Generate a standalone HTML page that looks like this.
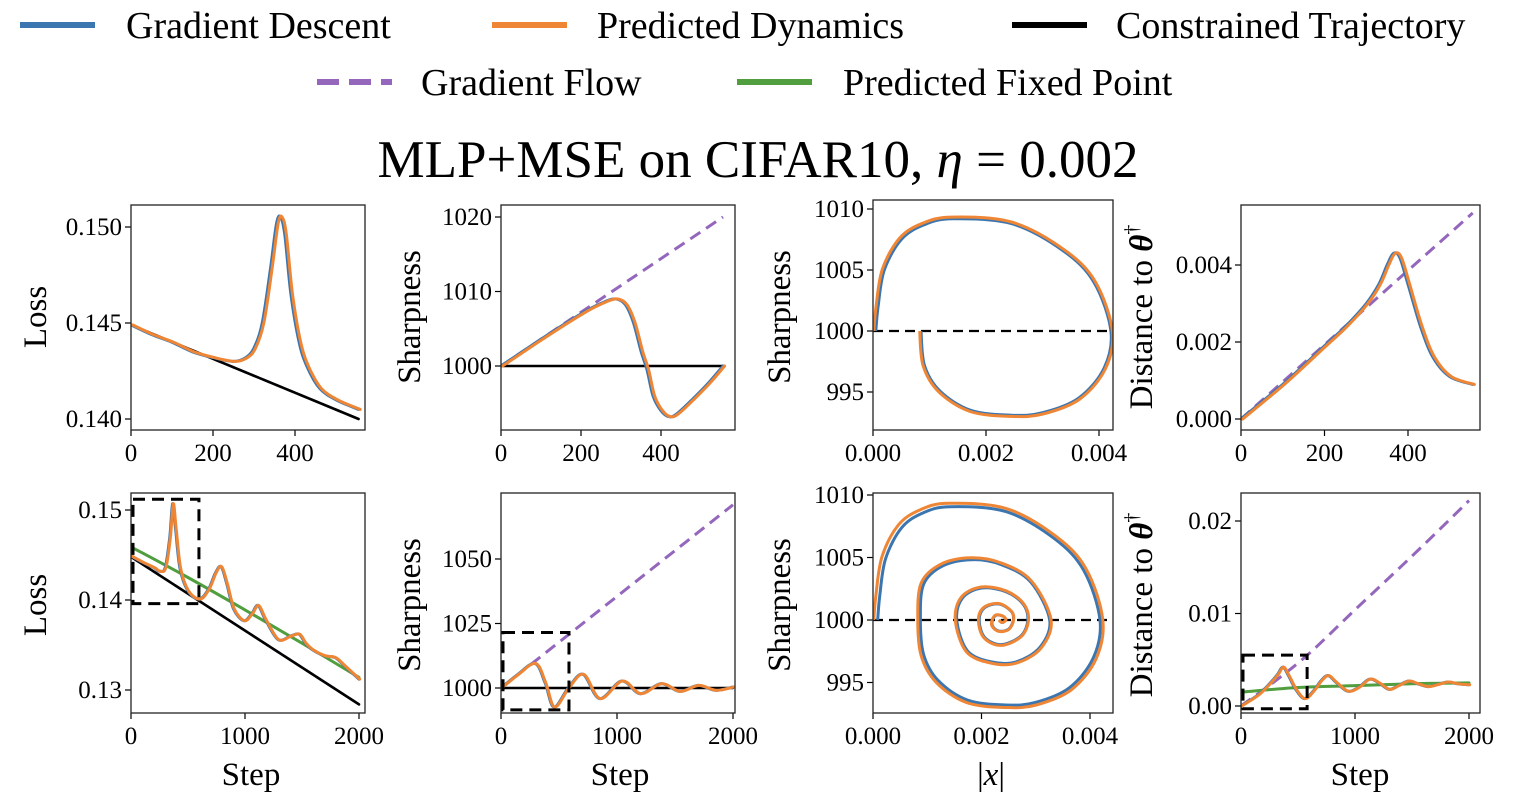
<!DOCTYPE html>
<html><head><meta charset="utf-8">
<style>
html,body{margin:0;padding:0;background:#fff;}
svg{display:block;font-family:"Liberation Serif","DejaVu Serif",serif;}
</style></head>
<body>
<svg id="fig" width="1528" height="812" viewBox="0 0 1528 812" xmlns="http://www.w3.org/2000/svg">
  <g font-size="38">
    <g>
      <line x1="20" y1="25" x2="95" y2="25" stroke="#3b76b0" stroke-width="6"/>
      <text x="126" y="38">Gradient Descent</text>
    </g>
    <g>
      <line x1="492" y1="25" x2="567" y2="25" stroke="#ef8636" stroke-width="6"/>
      <text x="597" y="38">Predicted Dynamics</text>
    </g>
    <g>
      <line x1="1012" y1="25" x2="1087" y2="25" stroke="#000" stroke-width="6"/>
      <text x="1116" y="38">Constrained Trajectory</text>
    </g>
    <g>
      <line x1="317" y1="82" x2="392" y2="82" stroke="#9467bd" stroke-width="6" stroke-dasharray="22,10"/>
      <text x="421" y="95">Gradient Flow</text>
    </g>
    <g>
      <line x1="737" y1="82" x2="812" y2="82" stroke="#519e3e" stroke-width="6"/>
      <text x="843" y="95">Predicted Fixed Point</text>
    </g>
  </g>
  <text x="758" y="177" font-size="53" text-anchor="middle">MLP+MSE on CIFAR10, <tspan font-style="italic">η</tspan> = 0.002</text>
  <g id="plots"></g>
</svg>
<script>
// ---------- DATA ----------
const r1LossSteps = [0,50,100,150,200,250,280,300,320,340,355,365,375,390,410,430,460,500,555];
const r1LossGD = [0.1449,0.1444,0.1440,0.1435,0.1432,0.1430,0.1432,0.1437,0.1450,0.1478,0.1502,0.1505,0.1496,0.1465,0.1440,0.1427,0.1416,0.1410,0.1405];
const r1LossConSteps = [0,555];
const r1LossCon = [0.1449,0.1400];

const r1SharpSteps = [0,100,200,250,285,310,330,350,365,380,400,420,440,480,520,555];
const r1SharpGD = [1000,1003.6,1007,1008.4,1009,1008.3,1006,1002,999.5,996,994,993.2,993.6,995.6,997.8,1000];
const r1FlowSteps = [0,555];
const r1SharpFlow = [1000,1020];
const r1SharpCon = [1000,1000];

const r1DistSteps = [0,100,200,250,300,330,350,365,380,400,430,460,500,555];
const r1DistGD = [0,0.0009,0.0019,0.0024,0.0030,0.0035,0.0040,0.0043,0.0042,0.0035,0.0024,0.0016,0.0011,0.0009];
const r1DistFlow = [0,0.00535];

const spiralX = [0.00005,0.00009,0.0002,0.0005,0.0009,0.00141,0.00245,0.00336,0.00391,0.00421,0.00409,0.00364,0.0030,0.00245,0.00173,0.00118,0.00091,0.00085,
 0.00091,0.00127,0.00182,0.00236,0.00291,0.00327,0.00309,0.00264,0.00218,0.00173,0.00153,
 0.00164,0.0020,0.00245,0.00277,0.00286,0.00273,0.00236,0.00205,0.00195,
 0.00205,0.00232,0.00255,0.00259,0.0025,0.00232,0.0022,0.0022,0.00227,0.0024,0.00245,0.00238,0.00232];
const spiralS = [1000,1002,1005,1007.5,1008.7,1009.2,1008.8,1006.6,1004.0,1000,996.96,994.5,993.3,993.1,993.5,995.1,997.2,1000,
 1002.9,1004.4,1004.9,1004.5,1003.1,1000,997.8,996.6,996.6,997.5,1000,
 1001.8,1002.6,1002.3,1001.3,1000,998.7,998.0,998.6,1000,
 1001.0,1001.3,1000.7,1000,999.25,999.1,999.5,1000,1000.4,1000.3,1000,999.8,1000];
const firstLoopCount = 18;

const r2LossSteps = [0,100,200,250,300,340,365,390,430,500,600,680,740,790,840,900,990,1060,1114,1180,1290,1400,1474,1530,1600,1700,1790,1880,2000];
const r2LossGD = [0.1449,0.1442,0.1436,0.1432,0.1436,0.1470,0.1507,0.1480,0.1435,0.1410,0.1401,0.1412,0.1430,0.1437,0.1418,0.1390,0.1377,0.1385,0.1394,0.1378,0.1356,0.1360,0.1362,0.1352,0.1344,0.1338,0.1336,0.1326,0.1312];
const r2FixSteps = [0,500,1000,1500,2000];
const r2LossFix = [0.1459,0.1425,0.1389,0.1352,0.1314];
const r2ConSteps = [0,2000];
const r2LossCon = [0.1448,0.1284];

const r2SharpSteps = [0,138,293,380,457,580,707,850,1040,1200,1380,1540,1700,1850,2000];
const r2SharpGD = [1000,1005,1009.5,1002,992.6,1000,1005.3,995.9,1002.7,997.8,1001.7,998.7,1001,999.1,1000.4];
const r2SharpFlow = [1000,1071];
const r2SharpCon = [1000,1000];

const r2DistSteps = [0,150,250,320,368,420,480,557,640,700,762,830,934,1030,1126,1210,1298,1380,1469,1550,1640,1720,1812,1900,2000];
const r2DistGD = [0,0.0012,0.0024,0.0034,0.0042,0.0032,0.0018,0.0008,0.0017,0.0027,0.0033,0.0026,0.0016,0.0020,0.0029,0.0025,0.0018,0.0022,0.0027,0.0024,0.0021,0.0023,0.0026,0.0024,0.0023];
const r2FlowSteps = [0,300,600,1000,1500,2000];
const r2DistFlow = [0,0.0027,0.0057,0.0104,0.0162,0.0222];
const r2DistFix = [0.0015,0.0020,0.0022,0.0024,0.0025];

const xt1 = [0,200,400];
const xt2 = [0,1000,2000];
const xtSpiral = ["0.000","0.002","0.004"];
const ytLoss1 = ["0.140","0.145","0.150"];
const ytSharp1 = ["1000","1010","1020"];
const ytSpiral = ["995","1000","1005","1010"];
const ytDist1 = ["0.000","0.002","0.004"];
const ytLoss2 = ["0.13","0.14","0.15"];
const ytSharp2 = ["1000","1025","1050"];
const ytDist2 = ["0.00","0.01","0.02"];

// ---------- DRAWING ----------
const NS = "http://www.w3.org/2000/svg";
const root = document.getElementById("plots");
const BLUE="#3b76b0", ORANGE="#ef8636", PURPLE="#9467bd", GREEN="#519e3e";
const TICK_FS = 25, LABEL_FS = 33;
function lin(v0,p0,v1,p1){return v=>p0+(v-v0)*(p1-p0)/(v1-v0);}
function mk(tag,attrs,parent){const e=document.createElementNS(NS,tag);for(const k in attrs)e.setAttribute(k,attrs[k]);(parent||root).appendChild(e);return e;}
function smooth(pts){
  if(pts.length<3){return "M"+pts.map(p=>p[0].toFixed(1)+","+p[1].toFixed(1)).join("L");}
  let d="M"+pts[0][0].toFixed(1)+","+pts[0][1].toFixed(1);
  for(let i=0;i<pts.length-1;i++){
    const p0=pts[i-1]||pts[i],p1=pts[i],p2=pts[i+1],p3=pts[i+2]||p2;
    const c1=[p1[0]+(p2[0]-p0[0])/6,p1[1]+(p2[1]-p0[1])/6];
    const c2=[p2[0]-(p3[0]-p1[0])/6,p2[1]-(p3[1]-p1[1])/6];
    d+="C"+c1.map(v=>v.toFixed(1))+" "+c2.map(v=>v.toFixed(1))+" "+p2[0].toFixed(1)+","+p2[1].toFixed(1);
  }
  return d;
}
function makePanel(name,box,sx,sy,xticks,xlabels,yticks,ylabels){
  const g=mk("g",{});
  
  
  const clipId="clip-"+name;
  const cp=mk("clipPath",{id:clipId},g);
  mk("rect",{x:box.x0,y:box.y0,width:box.x1-box.x0,height:box.y1-box.y0},cp);
  const data=mk("g",{"clip-path":"url(#"+clipId+")"},g);
  
  
  xticks.forEach((v,i)=>{
    const x=sx(v);
    mk("line",{x1:x,y1:box.y1,x2:x,y2:box.y1+6,stroke:"#000","stroke-width":1.2},g);
    const t=mk("text",{x:x,y:box.y1+31,"font-size":TICK_FS,"text-anchor":"middle"},g);
    t.textContent=xlabels[i];
    
    
  });
  yticks.forEach((v,i)=>{
    const y=sy(v);
    mk("line",{x1:box.x0-6,y1:y,x2:box.x0,y2:y,stroke:"#000","stroke-width":1.2},g);
    const t=mk("text",{x:box.x0-9,y:y+8,"font-size":TICK_FS,"text-anchor":"end"},g);
    t.textContent=ylabels[i];
    
    
  });
  const fr=mk("rect",{x:box.x0,y:box.y0,width:box.x1-box.x0,height:box.y1-box.y0,fill:"none",stroke:"#222","stroke-width":1.3},g);
  
  
  return data;
}
function series(parent,name,xs,ys,sx,sy,color,width,dash,lag){
  const pts=xs.map((x,i)=>[sx(x+(lag||0)),sy(ys[i])]);
  const p=mk("path",{d:smooth(pts),fill:"none",stroke:color,"stroke-width":width,"stroke-linejoin":"round","stroke-linecap":dash?"butt":"round"},parent);
  if(dash)p.setAttribute("stroke-dasharray",dash);
  
  
  return p;
}
function spiral(parent,name,n,sx,sy,color,width,scale){
  const cx=0.00245,cy=1000;
  const pts=[];
  for(let i=0;i<n;i++){pts.push([sx(cx+(spiralX[i]-cx)*scale),sy(cy+(spiralS[i]-cy)*scale)]);}
  const p=mk("path",{d:smooth(pts),fill:"none",stroke:color,"stroke-width":width,"stroke-linejoin":"round"},parent);
  
  
}
function hline(parent,name,box,y,dash){
  const l=mk("line",{x1:box.x0,x2:box.x1,y1:y,y2:y,stroke:"#000","stroke-width":2.2},parent);
  if(dash)l.setAttribute("stroke-dasharray",dash);
  
  
}
function zoomBox(parent,name,x0,x1,y0,y1){
  const r=mk("rect",{x:x0,y:y0,width:x1-x0,height:y1-y0,fill:"none",stroke:"#000","stroke-width":3,"stroke-dasharray":"12,7"},parent);
  
  
}
function label(name,x,y,txt,rot,size){
  const t=mk("text",{x:x,y:y,"font-size":size||LABEL_FS,"text-anchor":"middle",transform:rot?"rotate(-90 "+x+" "+y+")":""});
  t.textContent=txt;
  
  
  return t;
}
function distLabel(name,x,y){
  const t=mk("text",{x:x,y:y,"font-size":LABEL_FS,"text-anchor":"middle",transform:"rotate(-90 "+x+" "+y+")"});
  
  
  t.appendChild(document.createTextNode("Distance to "));
  const th=mk("tspan",{"font-style":"italic","font-weight":"bold"},t);th.textContent="θ";
  const dg=mk("tspan",{"font-size":20,dy:-14},t);dg.textContent="†";
}

const R1={y0:205,y1:430}, R2={y0:493,y1:713};
{const box={x0:131,x1:365,...R1};const sx=lin(0,131,400,295),sy=lin(0.140,419,0.150,227);
 const d=makePanel("loss-panel-top",box,sx,sy,xt1,xt1.map(String),[0.140,0.145,0.150],ytLoss1);
 series(d,"constrained-line",r1LossConSteps,r1LossCon,sx,sy,PURPLE,2.5,"8,5");
 series(d,"constrained-line",r1LossConSteps,r1LossCon,sx,sy,"#000",2.6);
 series(d,"gd-line",r1LossSteps,r1LossGD,sx,sy,BLUE,3);
 series(d,"predicted-line",r1LossSteps,r1LossGD,sx,sy,ORANGE,3,null,4);
 label("y-axis-title-loss",46,317,"Loss",true);}
{const box={x0:501,x1:735,...R1};const sx=lin(0,501,400,661),sy=lin(1000,366,1020,217);
 const d=makePanel("sharpness-panel-top",box,sx,sy,xt1,xt1.map(String),[1000,1010,1020],ytSharp1);
 series(d,"flow-line",r1FlowSteps,r1SharpFlow,sx,sy,PURPLE,3,"12,7");
 series(d,"constrained-line",r1FlowSteps,r1SharpCon,sx,sy,"#000",2.4);
 series(d,"gd-line",r1SharpSteps,r1SharpGD,sx,sy,BLUE,3);
 series(d,"predicted-line",r1SharpSteps,r1SharpGD,sx,sy,ORANGE,3,null,4);
 label("y-axis-title-sharpness",420,317,"Sharpness",true);}
{const box={x0:873,x1:1113,y0:200,y1:430};const sx=lin(0,873,0.004,1099),sy=lin(1000,331,1010,209);
 const d=makePanel("spiral-panel-top",box,sx,sy,[0,0.002,0.004],xtSpiral,[995,1000,1005,1010],ytSpiral);
 hline(d,"sharpness-2-over-eta-line",box,sy(1000),"10,6");
 spiral(d,"gd-spiral",firstLoopCount,sx,sy,BLUE,3,1);
 spiral(d,"predicted-spiral",firstLoopCount,sx,sy,ORANGE,3,1.015);
 label("y-axis-title-sharpness",790,317,"Sharpness",true);}
{const box={x0:1241,x1:1480,...R1};const sx=lin(0,1241,400,1408),sy=lin(0,419,0.004,265);
 const d=makePanel("distance-panel-top",box,sx,sy,xt1,xt1.map(String),[0,0.002,0.004],ytDist1);
 series(d,"flow-line",r1FlowSteps,r1DistFlow,sx,sy,PURPLE,3,"12,7");
 series(d,"gd-line",r1DistSteps,r1DistGD,sx,sy,BLUE,3);
 series(d,"predicted-line",r1DistSteps,r1DistGD,sx,sy,ORANGE,3,null,4);
 distLabel("y-axis-title-distance",1152,317);}
{const box={x0:131,x1:365,...R2};const sx=lin(0,131,2000,359),sy=lin(0.13,690,0.15,510);
 const d=makePanel("loss-panel-bottom",box,sx,sy,xt2,xt2.map(String),[0.13,0.14,0.15],ytLoss2);
 series(d,"flow-line",r2ConSteps,r2LossCon,sx,sy,PURPLE,2.5,"8,5");
 series(d,"constrained-line",r2ConSteps,r2LossCon,sx,sy,"#000",2.6);
 series(d,"fixed-point-line",r2FixSteps,r2LossFix,sx,sy,GREEN,3);
 series(d,"gd-line",r2LossSteps,r2LossGD,sx,sy,BLUE,3);
 series(d,"predicted-line",r2LossSteps,r2LossGD,sx,sy,ORANGE,3,null,6);
 zoomBox(d,"zoom-region-box",sx(0)+2,sx(596),sy(0.1512),sy(0.1396));
 label("y-axis-title-loss",46,605,"Loss",true);
 label("x-axis-title-step",251,785,"Step",false);}
{const box={x0:501,x1:735,...R2};const sx=lin(0,501,2000,733),sy=lin(1000,688,1050,559);
 const d=makePanel("sharpness-panel-bottom",box,sx,sy,xt2,xt2.map(String),[1000,1025,1050],ytSharp2);
 series(d,"flow-line",r2ConSteps,r2SharpFlow,sx,sy,PURPLE,3,"12,7");
 series(d,"constrained-line",r2ConSteps,r2SharpCon,sx,sy,"#000",2.4);
 series(d,"gd-line",r2SharpSteps,r2SharpGD,sx,sy,BLUE,3);
 series(d,"predicted-line",r2SharpSteps,r2SharpGD,sx,sy,ORANGE,3,null,6);
 zoomBox(d,"zoom-region-box",sx(0)+2,sx(586),sy(1021.5),sy(991.5));
 label("y-axis-title-sharpness",420,605,"Sharpness",true);
 label("x-axis-title-step",620,785,"Step",false);}
{const box={x0:873,x1:1113,...R2};const sx=lin(0,873,0.004,1090),sy=lin(1000,620,1010,495);
 const d=makePanel("spiral-panel-bottom",box,sx,sy,[0,0.002,0.004],xtSpiral,[995,1000,1005,1010],ytSpiral);
 hline(d,"sharpness-2-over-eta-line",box,sy(1000),"10,6");
 spiral(d,"gd-spiral",spiralX.length,sx,sy,BLUE,3,0.985);
 spiral(d,"predicted-spiral",spiralX.length,sx,sy,ORANGE,3,1.015);
 label("y-axis-title-sharpness",790,605,"Sharpness",true);
 const t=label("x-axis-title-abs-x",991,785,"",false);
 t.textContent="|";const it=mk("tspan",{"font-style":"italic"},t);it.textContent="x";const e=mk("tspan",{},t);e.textContent="|";}
{const box={x0:1241,x1:1480,...R2};const sx=lin(0,1241,2000,1469),sy=lin(0,706,0.02,521);
 const d=makePanel("distance-panel-bottom",box,sx,sy,xt2,xt2.map(String),[0,0.01,0.02],ytDist2);
 series(d,"flow-line",r2FlowSteps,r2DistFlow,sx,sy,PURPLE,3,"12,7");
 series(d,"fixed-point-line",r2FixSteps,r2DistFix,sx,sy,GREEN,3);
 series(d,"gd-line",r2DistSteps,r2DistGD,sx,sy,BLUE,3);
 series(d,"predicted-line",r2DistSteps,r2DistGD,sx,sy,ORANGE,3,null,6);
 zoomBox(d,"zoom-region-box",sx(0)+2,sx(580),sy(0.0055),sy(-0.0003));
 distLabel("y-axis-title-distance",1152,605);
 label("x-axis-title-step",1360,785,"Step",false);}
</script>
</body></html>
